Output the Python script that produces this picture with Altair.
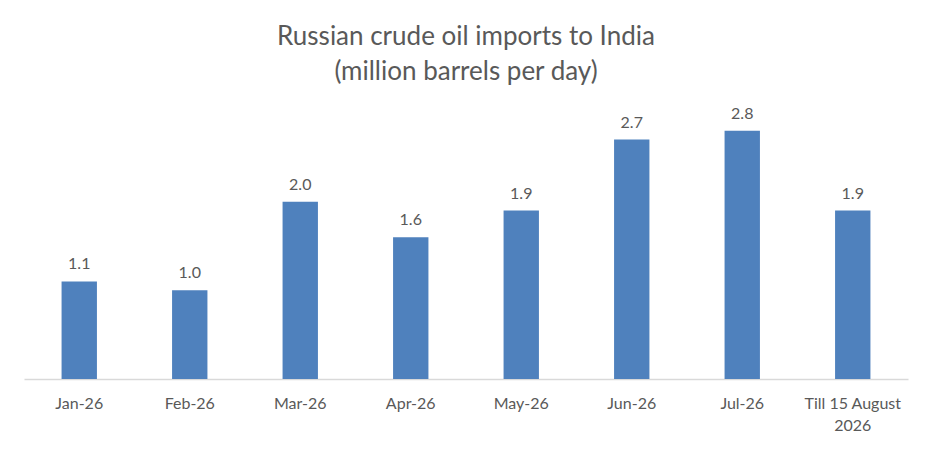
import altair as alt
import pandas as pd

months = ["Jan-26", "Feb-26", "Mar-26", "Apr-26", "May-26", "Jun-26", "Jul-26", "Till 15 August|2026"]
values = [1.1, 1.0, 2.0, 1.6, 1.9, 2.7, 2.8, 1.9]

df = pd.DataFrame({"month": months, "value": values})
df["label"] = df["value"].map(lambda v: f"{v:.1f}")

FONT = "Lato"
GREY = "#595959"

x = alt.X("month:N", sort=months, title=None,
          scale=alt.Scale(paddingInner=0.68, paddingOuter=0.34),
          axis=alt.Axis(labelAngle=0, labelExpr="split(datum.label, '|')",
                        labelFont=FONT, labelFontSize=16, labelColor=GREY,
                        labelPadding=16, labelLineHeight=22,
                        domainColor="#d9d9d9", domainWidth=1.5,
                        ticks=False, grid=False))
y = alt.Y("value:Q", scale=alt.Scale(domain=[0, 3]), axis=None)

bars = alt.Chart(df).mark_bar(color="#4F81BD").encode(x=x, y=y)
labels = alt.Chart(df).mark_text(font=FONT, fontSize=16, color=GREY, dy=-9, baseline="bottom").encode(
    x=x, y=y, text="label:N")

chart = (bars + labels).properties(
    width=884, height=266,
    background="white",
    title=alt.TitleParams(["Russian crude oil imports to India", "(million barrels per day)"],
                          font=FONT, fontSize=26, fontWeight="normal", color=GREY,
                          lineHeight=35, offset=21, anchor="middle"),
    autosize=alt.AutoSizeParams(type="none"),
    padding={"left": 16, "top": 105, "right": 15, "bottom": 65},
).configure_view(strokeWidth=0, stroke=None)

chart.save("out.html", embed_options={"renderer": "svg", "actions": False})
